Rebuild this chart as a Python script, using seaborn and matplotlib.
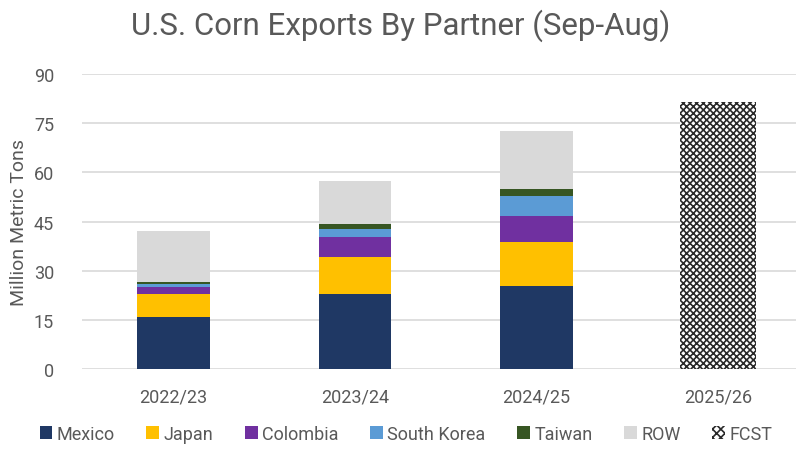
import pandas as pd
import matplotlib
matplotlib.use("Agg")
import matplotlib.pyplot as plt
from matplotlib.patches import Patch
import seaborn as sns

# Marketing years and partner volumes (million metric tons)
seasons = ["2022/23", "2023/24", "2024/25", "2025/26"]
actual_seasons = ["2022/23", "2023/24", "2024/25"]
partners = ["Mexico", "Japan", "Colombia", "South Korea", "Taiwan", "ROW"]
mexico = [15.9, 22.9, 25.4]
japan = [6.9, 11.2, 13.4]
colombia = [2.1, 6.1, 7.8]
south_korea = [0.9, 2.5, 6.1]
taiwan = [0.8, 1.7, 2.2]
row = [15.6, 12.9, 17.8]
fcst_season = ["2025/26"]
fcst = [81.6]
yticks = [0, 15, 30, 45, 60, 75, 90]

colors = {
    "Mexico": "#1F3864",
    "Japan": "#FFC000",
    "Colombia": "#7030A0",
    "South Korea": "#5B9BD5",
    "Taiwan": "#375623",
    "ROW": "#D9D9D9",
}
text_color = "#595959"

sns.set_theme(style="white")
plt.rcParams["font.family"] = ["Roboto", "DejaVu Sans"]
plt.rcParams["hatch.linewidth"] = 1.2

df = pd.DataFrame({
    "Mexico": mexico,
    "Japan": japan,
    "Colombia": colombia,
    "South Korea": south_korea,
    "Taiwan": taiwan,
    "ROW": row,
}, index=actual_seasons)
cum = df.cumsum(axis=1)

fig = plt.figure(figsize=(7.96, 4.52), dpi=100)
ax = fig.add_axes([0.103, 0.1814, 0.897, 0.6525])

# stacked bars: draw cumulative totals from the top layer down
for p in reversed(partners):
    sns.barplot(x=actual_seasons, y=cum[p].values, order=seasons, color=colors[p],
                saturation=1, width=0.4, linewidth=0, ax=ax)

sns.barplot(x=fcst_season, y=fcst, order=seasons, color="white", saturation=1,
            width=0.42, linewidth=0, edgecolor="#2a2a2a", hatch="xxxxx", ax=ax)

ax.set_ylim(0, 90)
ax.set_yticks(yticks)
ax.set_xlim(-0.504, 3.43)
ax.set_axisbelow(True)
ax.yaxis.grid(True, color="#D9D9D9", linewidth=1.2)
sns.despine(ax=ax, left=True, bottom=True)
ax.tick_params(axis="y", length=0, pad=20, labelsize=13, labelcolor=text_color)
ax.tick_params(axis="x", length=0, pad=13, labelsize=13, labelcolor=text_color)
ax.set_xlabel("")
ax.set_ylabel("Million Metric Tons", fontsize=14, color=text_color, labelpad=4)

fig.suptitle("U.S. Corn Exports By Partner (Sep-Aug)", x=0.503, y=0.98,
             fontsize=22.5, color=text_color)

handles = [Patch(facecolor=colors[p], edgecolor="none", label=p) for p in partners]
handles.append(Patch(facecolor="white", edgecolor="#2a2a2a", linewidth=0,
                     hatch="xxxx", label="FCST"))
fig.legend(handles=handles, loc="lower center", bbox_to_anchor=(0.51, -0.018),
           ncol=7, frameon=False, fontsize=13, labelcolor=text_color,
           handlelength=0.7, handleheight=0.7, handletextpad=0.25,
           columnspacing=1.75)

fig.savefig("out.png", dpi=100)
